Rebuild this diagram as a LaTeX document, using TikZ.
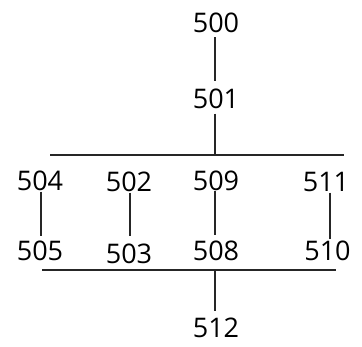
\documentclass[tikz,border=0pt]{standalone}
\usepackage{fontspec}
\setmainfont{Open Sans}
\begin{document}
\begin{tikzpicture}[x=1pt,y=-1pt,
  lbl/.style={inner sep=0pt,text height=19pt,text depth=0pt,font=\fontsize{27}{27}\selectfont,anchor=center},
  ln/.style={line width=1.3pt,black!85},
  bar/.style={line width=1.5pt,black!85}]
\useasboundingbox (0,0) rectangle (362,346);
\node[lbl] (n500) at (216,22.5) {500};
\node[lbl] (n501) at (216,99) {501};
\node[lbl] (n504) at (40,181) {504};
\node[lbl] (n502) at (129,182) {502};
\node[lbl] (n509) at (216,181) {509};
\node[lbl] (n511) at (326,182) {511};
\node[lbl] (n505) at (40,251) {505};
\node[lbl] (n503) at (129,254) {503};
\node[lbl] (n508) at (216,251) {508};
\node[lbl] (n510) at (327.5,251) {510};
\node[lbl] (n512) at (216,328) {512};
\coordinate (tl) at (50,155);
\coordinate (tr) at (344,155);
\coordinate (tj) at (215,155);
\coordinate (bl) at (42,270);
\coordinate (br) at (336,270);
\coordinate (bj) at (215,271);
\draw[bar] (tl) -- (tr);
\draw[bar] (bl) -- (br);
\draw[ln] ([xshift=-1pt,yshift=-5pt]n500.south) -- ([xshift=-1pt,yshift=8pt]n501.north);
\draw[ln] ([xshift=-1pt,yshift=-5pt]n501.south) -- (tj);
\draw[ln] ([xshift=1pt,yshift=-1pt]n504.south) -- ([xshift=1pt,yshift=5pt]n505.north);
\draw[ln] ([xshift=1pt,yshift=-1pt]n502.south) -- ([xshift=1pt,yshift=8pt]n503.north);
\draw[ln] ([xshift=-1pt,yshift=0pt]n509.south) -- ([xshift=-1pt,yshift=6pt]n508.north);
\draw[ln] ([xshift=4pt,yshift=-1pt]n511.south) -- ([xshift=2.5pt,yshift=2pt]n510.north);
\draw[ln] (bj) -- ([xshift=-1pt,yshift=7pt]n512.north);
\end{tikzpicture}
\end{document}
